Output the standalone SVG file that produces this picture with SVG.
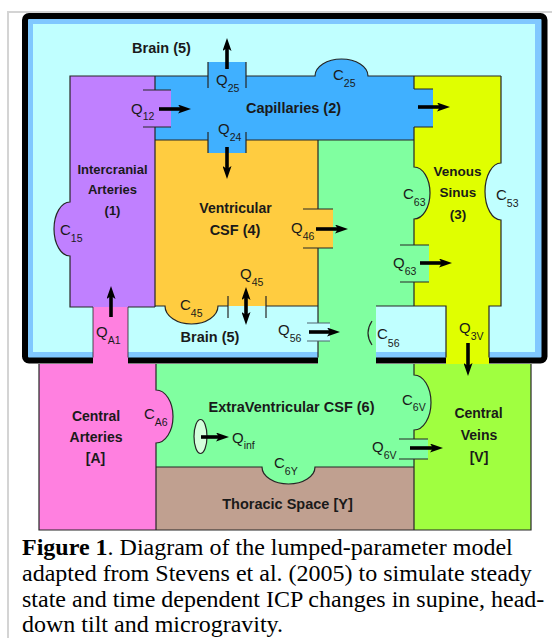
<svg xmlns="http://www.w3.org/2000/svg" width="552" height="638" viewBox="0 0 552 638">
<style>
.b{font-family:"Liberation Sans",Arial,sans-serif;font-weight:bold;font-size:14.5px;fill:#1a1a1a;text-anchor:middle}
.l{font-family:"Liberation Sans",Arial,sans-serif;font-size:15px;fill:#1a1a1a}
.s{font-size:10.5px}
.ol{fill:none;stroke:#262626;stroke-width:1.2}
.vl{fill:none;stroke:#262626;stroke-width:1.2}
.ar{fill:none;stroke:#000;stroke-width:3.6;marker-end:url(#ah)}
.cap{font-family:"Liberation Serif","Times New Roman",serif;font-size:24px;fill:#000}
</style>
<defs>
<marker id="ah" viewBox="0 0 13 9" refX="4" refY="4.5" markerWidth="13" markerHeight="9" markerUnits="userSpaceOnUse" orient="auto-start-reverse"><path d="M0,0 L13,4.5 L0,9 L3,4.5 Z" fill="#000"/></marker>
</defs>
<rect width="552" height="638" fill="#fff"/>
<path d="M8,638 V12 H552" fill="none" stroke="#d4d4d4" stroke-width="2"/>

<g id="node-brain">
<rect x="25" y="16" width="519.5" height="344.5" rx="4" fill="#80c8ff" stroke="#000" stroke-width="6"/>
<rect x="33" y="24" width="502" height="328" fill="#c0ffff"/>
<text class="b" x="161.5" y="53">Brain (5)</text>
<text class="b" x="210" y="342">Brain (5)</text>
</g>

<g id="node-venous-sinus">
<path d="M414,76 H501 V163 A16 28.5 0 0 0 501,220 V306 H489 V365 H446 V306 H414 Z" fill="#e0ff00"/>
<text class="b" style="font-size:13.5px" x="457.5" y="176">Venous</text>
<text class="b" style="font-size:13.5px" x="458" y="197">Sinus</text>
<text class="b" style="font-size:13.5px" x="458" y="219">(3)</text>
</g>

<g id="node-thoracic">
<rect x="156" y="467" width="258" height="63" fill="#c0a090"/>
<text class="b" x="287.5" y="509">Thoracic Space [Y]</text>
</g>

<g id="node-central-veins">
<rect x="414" y="364" width="117" height="166" fill="#a0ff40"/>
<text class="b" style="font-size:14px" x="478.5" y="418">Central</text>
<text class="b" style="font-size:14px" x="479" y="440">Veins</text>
<text class="b" style="font-size:14px" x="479" y="462">[V]</text>
</g>

<g id="node-extraventricular">
<path d="M318,140 H414 V306 H376 V364 H414 V467 H156 V364 H318 Z" fill="#80ffa0"/>
<path d="M414,167 A16 26 0 0 1 414,219 Z" fill="#80ffa0"/>
<path d="M262,467 A26.5 17 0 0 0 315,467 Z" fill="#80ffa0"/>
<path d="M414,375 A17 27.5 0 0 1 414,430 Z" fill="#80ffa0"/>
<text class="b" x="291.5" y="412">ExtraVentricular CSF (6)</text>
</g>

<g id="node-ventricular">
<rect x="155" y="140" width="163" height="166" fill="#ffcc40"/>
<path d="M165,306 A26.5 18 0 0 0 218,306 Z" fill="#ffcc40"/>
<text class="b" style="font-size:14px" x="235.5" y="213">Ventricular</text>
<text class="b" x="235" y="235">CSF (4)</text>
</g>

<g id="node-capillaries">
<rect x="155" y="76" width="259" height="64" fill="#40b0ff"/>
<path d="M315,76 A26.5 17 0 0 1 368,76 Z" fill="#40b0ff"/>
<text class="b" x="293.5" y="113">Capillaries (2)</text>
</g>

<g id="node-intercranial">
<rect x="70" y="76" width="85" height="231" fill="#c080ff"/>
<path d="M70,202 A16 27 0 0 0 70,256 Z" fill="#c080ff"/>
<text class="b" style="font-size:13px" x="112.5" y="174">Intercranial</text>
<text class="b" style="font-size:13px" x="112.5" y="194">Arteries</text>
<text class="b" style="font-size:13px" x="112.5" y="215">(1)</text>
</g>

<g id="node-central-arteries">
<rect x="39" y="364" width="117" height="166" fill="#ff80e0"/>
<rect x="93" y="307" width="35" height="58" fill="#ff80e0"/>
<path d="M156,390 A17 26.5 0 0 1 156,443 Z" fill="#ff80e0"/>
<text class="b" style="font-size:14px" x="96" y="420.5">Central</text>
<text class="b" style="font-size:14px" x="96" y="442">Arteries</text>
<text class="b" style="font-size:14px" x="95.5" y="463">[A]</text>
</g>

<g id="outlines" class="ol">
<path d="M155,76 H70 V202 A16 27 0 0 0 70,256 V307 H93 M128,307 H155"/>
<path d="M155,76 V90 M155,127 V307"/>
<path d="M155,76 H208 M246,76 H315 A26.5 17 0 0 1 368,76 H501"/>
<path d="M155,140 H208 M246,140 H414"/>
<path d="M414,76 V89 M414,127 V167 A16 26 0 0 1 414,219 V245 M414,282 V306"/>
<path d="M501,76 V163 A16 28.5 0 0 0 501,220 V306 H489 V357.5"/>
<path d="M446,357.5 V306 H376"/>
<path d="M155,306 H165 A26.5 18 0 0 0 218,306 H228 M266,306 H318"/>
<path d="M318,140 V209 M318,248 V323 M318,341 V357.5"/>
<path d="M93,307 V357.5 M128,307 V357.5" stroke-width="0.8"/>
<path d="M39,364 V530 H531 V364"/>
<path d="M156,364 V390 A17 26.5 0 0 1 156,443 V530"/>
<path d="M156,467 H262 A26.5 17 0 0 0 315,467 H414"/>
<path d="M414,364 V375 A17 27.5 0 0 1 414,430 V439 M414,459 V530"/>
<path d="M372,321 Q364,333 372,345"/>
</g>

<g id="connectors">
<rect x="208" y="62" width="38" height="14" fill="#40b0ff"/>
<rect x="208" y="140" width="38" height="13" fill="#40b0ff"/>
<rect x="414" y="89" width="19" height="38" fill="#40b0ff"/>
<rect x="155" y="90" width="16" height="37" fill="#c080ff"/>
<rect x="318" y="209" width="15" height="39" fill="#ffcc40"/>
<rect x="414" y="245" width="15" height="37" fill="#80ffa0"/>
<rect x="318" y="323" width="12" height="18" fill="#c0ffff"/>
<rect x="414" y="439" width="14" height="20" fill="#80ffa0"/>
<path class="vl" d="M208,62 V88 M246,62 V88 M208,132 V153 M246,132 V153 M143,90 H171 M143,127 H171 M414,89 H433 M414,127 H433 M228,296 V318 M266,296 V318 M303,209 H333 M303,248 H333 M400,245 H429 M400,282 H429 M399,439 H428 M399,459 H428"/>
<path class="vl" d="M307,323 H330 M307,341 H330" style="stroke:#4f6570"/>
<ellipse cx="200.5" cy="436.5" rx="6.5" ry="17" fill="#d4ffdc" stroke="#262626" stroke-width="1.2"/>
<path class="ar" d="M227,69 V47"/>
<path class="ar" d="M159,109 H182"/>
<path class="ar" d="M227,147 V170"/>
<path class="ar" d="M418,107 H441"/>
<path class="ar" d="M111,317 V295"/>
<path class="ar" d="M246,296 V316" style="marker-start:url(#ah)"/>
<path class="ar" d="M316,229 H339"/>
<path class="ar" d="M420,263 H443"/>
<path class="ar" d="M309,332 H331"/>
<path class="ar" d="M468,343 V367"/>
<path class="ar" d="M201,437 H220"/>
<path class="ar" d="M410,448 H434"/>
<text class="l" x="216" y="85">Q<tspan class="s" dy="7">25</tspan></text>
<text class="l" x="131" y="113.5">Q<tspan class="s" dy="6">12</tspan></text>
<text class="l" x="218" y="133.5">Q<tspan class="s" dy="7.5">24</tspan></text>
<text class="l" x="333" y="80">C<tspan class="s" dy="7">25</tspan></text>
<text class="l" x="60" y="235">C<tspan class="s" dy="6.5">15</tspan></text>
<text class="l" x="180" y="310">C<tspan class="s" dy="7">45</tspan></text>
<text class="l" x="240" y="278.5">Q<tspan class="s" dy="7">45</tspan></text>
<text class="l" x="291" y="233">Q<tspan class="s" dy="7">46</tspan></text>
<text class="l" x="403" y="198.5">C<tspan class="s" dy="7">63</tspan></text>
<text class="l" x="393" y="268">Q<tspan class="s" dy="7">63</tspan></text>
<text class="l" x="496" y="199.5">C<tspan class="s" dy="7">53</tspan></text>
<text class="l" x="278" y="335">Q<tspan class="s" dy="6.5">56</tspan></text>
<text class="l" x="377" y="339">C<tspan class="s" dy="7.5">56</tspan></text>
<text class="l" x="459" y="332.5">Q<tspan class="s" dy="7">3V</tspan></text>
<text class="l" x="96" y="337">Q<tspan class="s" dy="7">A1</tspan></text>
<text class="l" x="144" y="419">C<tspan class="s" dy="6.5">A6</tspan></text>
<text class="l" x="232" y="442.5">Q<tspan class="s" dy="6">inf</tspan></text>
<text class="l" x="274" y="468">C<tspan class="s" dy="7">6Y</tspan></text>
<text class="l" x="402" y="404.5">C<tspan class="s" dy="6">6V</tspan></text>
<text class="l" x="372" y="451.5">Q<tspan class="s" dy="7.5">6V</tspan></text>
</g>

<g id="caption">
<text class="cap" x="22" y="555"><tspan font-weight="bold">Figure 1</tspan>. Diagram of the lumped-parameter model</text>
<text class="cap" x="22" y="581">adapted from Stevens et al. (2005) to simulate steady</text>
<text class="cap" x="22" y="607">state and time dependent ICP changes in supine, head-</text>
<text class="cap" x="22" y="632">down tilt and microgravity.</text>
</g>
</svg>
